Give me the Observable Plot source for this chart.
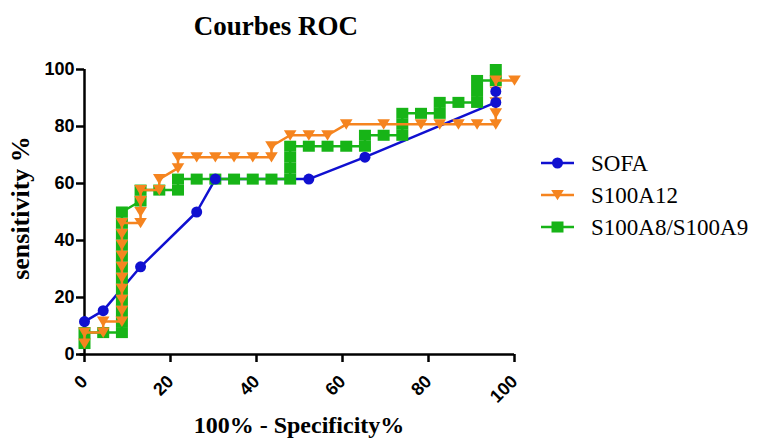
<!DOCTYPE html>
<html>
<head>
<meta charset="utf-8">
<script src="https://cdn.jsdelivr.net/npm/d3@7"></script>
<script src="https://cdn.jsdelivr.net/npm/@observablehq/plot@0.6"></script>
<style>
  html, body { margin: 0; padding: 0; background: #fff; }
  #chart { width: 758px; height: 441px; }
</style>
</head>
<body>
<div id="chart"></div>
<script>
// ---- data ----
const seriesNames = ["SOFA", "S100A12", "S100A8/S100A9"];
const seriesColors = ["#1010d0", "#f5841f", "#17b417"];
const xTicks = [0, 20, 40, 60, 80, 100];
const yTicks = [0, 20, 40, 60, 80, 100];

const sofaX = [0, 4.35, 13.04, 26.09, 30.43, 52.17, 65.22, 95.65, 95.65];
const sofaY = [11.54, 15.38, 30.77, 50.00, 61.54, 61.54, 69.23, 88.46, 92.31];

const s100a12X = [0, 0, 4.35, 4.35,
  8.70, 8.70, 8.70, 8.70, 8.70, 8.70, 8.70, 8.70, 8.70, 8.70,
  13.04, 13.04, 13.04, 13.04, 17.39, 17.39, 21.74, 21.74,
  26.09, 30.43, 34.78, 39.13, 43.48, 43.48, 47.83, 52.17, 56.52,
  60.87, 69.57, 78.26, 82.61, 86.96, 91.30,
  95.65, 95.65, 95.65, 95.65, 95.65, 100];
const s100a12Y = [3.85, 7.69, 7.69, 11.54,
  11.54, 15.38, 19.23, 23.08, 26.92, 30.77, 34.62, 38.46, 42.31, 46.15,
  46.15, 50.00, 53.85, 57.69, 57.69, 61.54, 65.38, 69.23,
  69.23, 69.23, 69.23, 69.23, 69.23, 73.08, 76.92, 76.92, 76.92,
  80.77, 80.77, 80.77, 80.77, 80.77, 80.77,
  80.77, 84.62, 88.46, 92.31, 96.15, 96.15];

const s100a8X = [0, 0, 4.35,
  8.70, 8.70, 8.70, 8.70, 8.70, 8.70, 8.70, 8.70, 8.70, 8.70, 8.70, 8.70,
  13.04, 13.04, 17.39, 21.74, 21.74,
  26.09, 30.43, 34.78, 39.13, 43.48,
  47.83, 47.83, 47.83, 47.83, 52.17, 56.52, 60.87,
  65.22, 65.22, 69.57, 73.91, 73.91, 73.91, 78.26,
  82.61, 82.61, 86.96, 91.30, 91.30, 91.30, 95.65, 95.65];
const s100a8Y = [3.85, 7.69, 7.69,
  7.69, 11.54, 15.38, 19.23, 23.08, 26.92, 30.77, 34.62, 38.46, 42.31, 46.15, 50.00,
  53.85, 57.69, 57.69, 57.69, 61.54,
  61.54, 61.54, 61.54, 61.54, 61.54,
  61.54, 65.38, 69.23, 73.08, 73.08, 73.08, 73.08,
  73.08, 76.92, 76.92, 76.92, 80.77, 84.62, 84.62,
  84.62, 88.46, 88.46, 88.46, 92.31, 96.15, 96.15, 100];

const zip = (xs, ys) => xs.map((x, i) => ({x, y: ys[i]}));
const sofa = zip(sofaX, sofaY);
const s100a12 = zip(s100a12X, s100a12Y);
const s100a8 = zip(s100a8X, s100a8Y);

// custom symbols
const triDown = {draw(ctx, size) {
  const r = Math.sqrt(size / Math.PI);
  ctx.moveTo(-r, -r * 0.8); ctx.lineTo(r, -r * 0.8); ctx.lineTo(0, r * 0.85); ctx.closePath();
}};
const sq = {draw(ctx, size) {
  const r = Math.sqrt(size / Math.PI);
  ctx.rect(-r, -r * 0.92, 2 * r, 1.84 * r);
}};

const [cBlue, cOrange, cGreen] = seriesColors;
const sans = "Liberation Sans, Arial, sans-serif";

const chart = Plot.plot({
  width: 758, height: 441,
  marginLeft: 84, marginRight: 244, marginTop: 69, marginBottom: 87,
  x: {domain: [0, 100]},
  y: {domain: [0, 100]},
  style: {background: "#fff", overflow: "visible", color: "#000"},
  marks: [
    Plot.axisY({ticks: yTicks, tickSize: 8, tickPadding: 2, strokeWidth: 2.5,
      fontSize: 18, fontWeight: "bold", fontFamily: sans, label: null}),
    Plot.axisX({ticks: xTicks, tickSize: 8, tickPadding: 16, tickRotate: -45, strokeWidth: 2.5,
      fontSize: 18, fontWeight: "bold", fontFamily: sans, label: null}),
    Plot.ruleX([0], {y1: 0, y2: 100, stroke: "#000", strokeWidth: 2.5}),
    Plot.ruleY([0], {x1: -1, x2: 100, stroke: "#000", strokeWidth: 2.5}),
    Plot.line(sofa, {x: "x", y: "y", stroke: cBlue, strokeWidth: 2.5}),
    Plot.line(s100a8, {x: "x", y: "y", stroke: cGreen, strokeWidth: 2.5}),
    Plot.dot(s100a8, {x: "x", y: "y", symbol: sq, r: 6, fill: cGreen, stroke: "none"}),
    Plot.line(s100a12, {x: "x", y: "y", stroke: cOrange, strokeWidth: 2.5}),
    Plot.dot(s100a12, {x: "x", y: "y", symbol: triDown, r: 6.3, fill: cOrange, stroke: "none"}),
    Plot.dot(sofa, {x: "x", y: "y", r: 5.5, fill: cBlue, stroke: "none"})
  ]
});

document.getElementById("chart").appendChild(chart);

// titles, axis labels and legend
const svg = d3.select(chart);
const serif = "Liberation Serif, Times New Roman, serif";
svg.append("text").attr("x", 276).attr("y", 35).attr("text-anchor", "middle")
  .attr("font-family", serif).attr("font-weight", "bold").attr("font-size", 27)
  .attr("fill", "#000").text("Courbes ROC");
svg.append("text").attr("x", 299).attr("y", 433).attr("text-anchor", "middle")
  .attr("font-family", serif).attr("font-weight", "bold").attr("font-size", 24)
  .attr("fill", "#000").text("100% - Specificity%");
svg.append("text").attr("transform", "translate(29,208) rotate(-90)").attr("text-anchor", "middle")
  .attr("font-family", serif).attr("font-weight", "bold").attr("font-size", 26)
  .attr("fill", "#000").text("sensitivity %");

const legendY = [163, 195, 227];
const symbols = [d3.symbolCircle, triDown, sq];
const symSizes = [Math.PI * 5.5 * 5.5, Math.PI * 6.3 * 6.3, Math.PI * 36];
const lg = svg.append("g");
seriesNames.forEach((name, i) => {
  const g = lg.append("g").attr("transform", `translate(0,${legendY[i]})`);
  g.append("line").attr("x1", 541).attr("x2", 574).attr("y1", 0).attr("y2", 0)
    .attr("stroke", seriesColors[i]).attr("stroke-width", 2.5);
  g.append("path").attr("transform", "translate(557.5,0)")
    .attr("d", d3.symbol(symbols[i], symSizes[i])()).attr("fill", seriesColors[i]);
  g.append("text").attr("x", 591).attr("y", 0).attr("dy", "0.35em").attr("text-anchor", "start")
    .attr("font-family", serif).attr("font-size", 23).attr("fill", "#000").text(name);
});
</script>
</body>
</html>
